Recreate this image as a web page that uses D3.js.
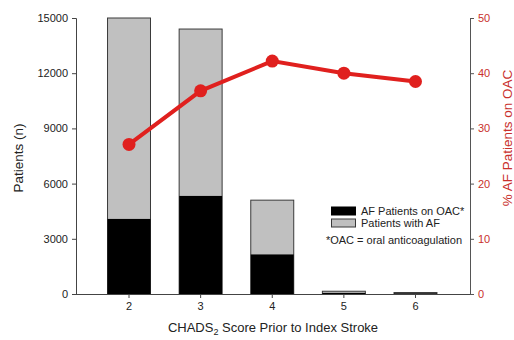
<!DOCTYPE html>
<html><head><meta charset="utf-8">
<script src="https://cdn.jsdelivr.net/npm/d3@7"></script>
<style>body{margin:0;background:#fff}svg{display:block;font-family:"Liberation Sans",Arial,sans-serif}</style>
</head><body><svg id="c" width="514" height="340"></svg>
<script>
const categories = ["2","3","4","5","6"];
const totalAF = [15000, 14400, 5100, 150, 80];
const onOAC = [4080, 5330, 2150, 60, 31];
const pctOAC = [27.1, 36.8, 42.2, 40.0, 38.5];
const leftTicks = [0, 3000, 6000, 9000, 12000, 15000];
const rightTicks = [0, 10, 20, 30, 40, 50];

const svg = d3.select("#c");
const L = 76, R = 470, T = 18, B = 294;
const x = d3.scaleBand().domain(categories).range([93.2, 451.3]).paddingInner(0.4).paddingOuter(0.2);
const y = d3.scaleLinear().domain([0, 15000]).range([B, T]);
const y2 = d3.scaleLinear().domain([0, 50]).range([B, T]);
const red = "#e0201e", redText = "#c9302c";

// bars
const g = svg.append("g");
g.selectAll("rect.tot").data(categories).join("rect")
  .attr("x", d => x(d)).attr("width", x.bandwidth())
  .attr("y", (d,i) => y(totalAF[i])).attr("height", (d,i) => B - y(totalAF[i]))
  .attr("fill", "#c0c0c0").attr("stroke", "#3a3a3a").attr("stroke-width", 1);
g.selectAll("rect.oac").data(categories).join("rect")
  .attr("x", d => x(d)).attr("width", x.bandwidth())
  .attr("y", (d,i) => y(onOAC[i])).attr("height", (d,i) => B - y(onOAC[i]))
  .attr("fill", "#000");

// axes
const ax = svg.append("g").attr("transform", `translate(${L},0)`)
  .call(d3.axisLeft(y).tickValues(leftTicks).tickFormat(d3.format("d")).tickSizeOuter(0).tickSize(4).tickPadding(4));
ax.selectAll("text").attr("font-size", 11).attr("fill", "#222").attr("font-family", "Liberation Sans, Arial, sans-serif");
ax.selectAll("path,line").attr("stroke", "#444");

const ax2 = svg.append("g").attr("transform", `translate(${R},0)`)
  .call(d3.axisRight(y2).tickValues(rightTicks).tickFormat(d3.format("d")).tickSizeOuter(0).tickSize(4).tickPadding(4));
ax2.selectAll("text").attr("font-size", 11).attr("fill", redText).attr("font-family", "Liberation Sans, Arial, sans-serif");
ax2.selectAll("path,line").attr("stroke", "#555");

const bx = svg.append("g").attr("transform", `translate(0,${B})`)
  .call(d3.axisBottom(x).tickSize(4).tickSizeOuter(0).tickPadding(4));
bx.select("path.domain").attr("d", `M${L},0.5H${R}`);
bx.selectAll("text").attr("font-size", 11).attr("fill", "#222").attr("font-family", "Liberation Sans, Arial, sans-serif");
bx.selectAll("path,line").attr("stroke", "#444");

// line
const cx = d => x(d) + x.bandwidth()/2;
svg.append("path").datum(categories)
  .attr("d", d3.line().x(d => cx(d)).y((d,i) => y2(pctOAC[i])))
  .attr("fill", "none").attr("stroke", red).attr("stroke-width", 4);
svg.selectAll("circle.pt").data(categories).join("circle")
  .attr("cx", d => cx(d)).attr("cy", (d,i) => y2(pctOAC[i])).attr("r", 6.5).attr("fill", red);

// titles
svg.append("text").attr("transform", "translate(23,158) rotate(-90)").attr("text-anchor", "middle")
  .attr("font-size", 13.5).attr("fill", "#222").text("Patients (n)");
svg.append("text").attr("transform", "translate(512,138) rotate(-90)").attr("text-anchor", "middle")
  .attr("font-size", 13.5).attr("fill", redText).text("% AF Patients on OAC");
const xt = svg.append("text").attr("x", 273).attr("y", 332).attr("text-anchor", "middle")
  .attr("font-size", 13).attr("fill", "#222");
xt.append("tspan").text("CHADS");
xt.append("tspan").attr("font-size", 9).attr("dy", 3).text("2");
xt.append("tspan").attr("dy", -3).text(" Score Prior to Index Stroke");

// legend
const lg = svg.append("g");
lg.append("rect").attr("x", 331).attr("y", 206.5).attr("width", 25).attr("height", 9).attr("fill", "#000");
lg.append("rect").attr("x", 331.5).attr("y", 219).attr("width", 24).attr("height", 8).attr("fill", "#c0c0c0").attr("stroke", "#3a3a3a");
lg.append("text").attr("x", 361).attr("y", 215).attr("font-size", 11).attr("fill", "#222").text("AF Patients on OAC*");
lg.append("text").attr("x", 361).attr("y", 227).attr("font-size", 11).attr("fill", "#222").text("Patients with AF");
lg.append("text").attr("x", 462).attr("y", 244).attr("text-anchor", "end").attr("font-size", 11).attr("fill", "#222").text("*OAC = oral anticoagulation");
</script></body></html>
